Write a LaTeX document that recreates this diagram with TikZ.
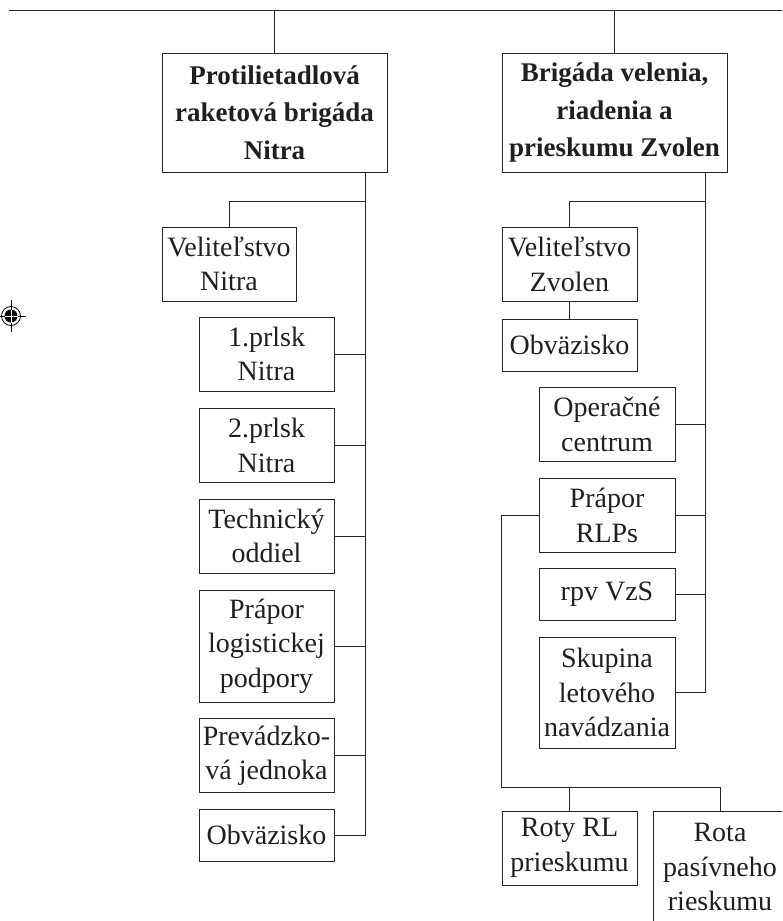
\documentclass[tikz,border=0pt]{standalone}
\usepackage{fontspec}
\setmainfont{Liberation Serif}
\definecolor{ln}{gray}{0.15}
\definecolor{tx}{gray}{0.12}
\tikzset{
  box/.style={draw=ln, line width=1pt, inner sep=0pt, align=center, text=tx,
    font=\fontsize{28}{34.5}\selectfont, minimum width=135pt, minimum height=74pt},
  headbox/.style={box, font=\bfseries\fontsize{27}{37.5}\selectfont, minimum width=225pt, minimum height=119pt},
  conn/.style={draw=ln, line width=1pt}
}
\begin{document}
\begin{tikzpicture}[x=1pt,y=-1pt]
\useasboundingbox (0,0) rectangle (782,921);
\clip (0,0) rectangle (782,921);
% registration mark
\draw[line width=0.8pt] (11,316) circle (9.5);
\fill (11,316) circle (6.5);
\draw[line width=0.6pt] (-4,316) -- (26,316) (11,300) -- (11,332);
\draw[white, line width=0.8pt] (4.5,316) -- (17.5,316) (11,309.5) -- (11,322.5);
% top line
\coordinate (topL) at (9,10);
\coordinate (topR) at (790,10);
\draw[conn] (topL) -- (topR);
% brigades
\node[headbox] (P) at (274.5,112.5) {Protilietadlová\\raketová brigáda\\Nitra};
\node[headbox] (B) at (614.5,112.5) {Brigáda velenia,\\riadenia a\\prieskumu Zvolen};
\draw[conn] (P.north) -- (P.north |- topL);
\draw[conn] (B.north) -- (B.north |- topL);
% left column
\node[box, minimum width=134pt] (VN) at (229,264) {Veliteľstvo\\Nitra};
\node[box] (N1) at (266.5,354) {1.prlsk\\Nitra};
\node[box] (N2) at (266.5,445.5) {2.prlsk\\Nitra};
\node[box] (TO) at (266.5,536) {Technický\\oddiel};
\node[box, minimum height=112pt] (PL) at (266.5,646) {Prápor\\logistickej\\podpory};
\node[box] (PJ) at (266.5,755.5) {Prevádzko-\\vá jednoka};
\node[box, minimum height=52pt] (OL) at (266.5,835) {Obväzisko};
\coordinate (tl) at (365,0);
\coordinate (bl) at (365,201);
\draw[conn] (tl |- P.south) -- (tl |- OL.east) -- (OL.east);
\draw[conn] (bl) -| (VN.north);
\foreach \n in {N1,N2,TO,PL,PJ} \draw[conn] (\n.east) -- (tl |- \n.east);
% right column
\node[box] (VZ) at (569.5,264.5) {Veliteľstvo\\Zvolen};
\node[box, minimum height=52pt] (OR) at (569.5,345) {Obväzisko};
\node[box, minimum width=136pt] (OC) at (607,424.5) {Operačné\\centrum};
\node[box, minimum width=136pt] (PR) at (607,515.5) {Prápor\\RLPs};
\node[box, minimum width=136pt, minimum height=52pt] (RV) at (607,594) {rpv VzS};
\node[box, minimum width=136pt, minimum height=111pt] (SK) at (607,692.5) {Skupina\\letového\\navádzania};
\coordinate (tr) at (705,0);
\coordinate (br) at (705,201);
\draw[conn] (tr |- B.south) -- (tr |- SK.east) -- (SK.east);
\draw[conn] (br) -| (VZ.north);
\draw[conn] (VZ.south) -- (OR.north);
\foreach \n in {OC,PR,RV} \draw[conn] (\n.east) -- (tr |- \n.east);
% reconnaissance branch
\node[box] (RR) at (569.5,848) {Roty RL\\prieskumu};
\node[box, minimum width=134pt, minimum height=112pt] (RP) at (720,867) {Rota\\pasívneho\\rieskumu};
\coordinate (pl) at (501,787);
\draw[conn] (PR.west) -| (pl) -- (pl -| RP.north) -- (RP.north);
\draw[conn] (pl -| RR.north) -- (RR.north);
\end{tikzpicture}
\end{document}
